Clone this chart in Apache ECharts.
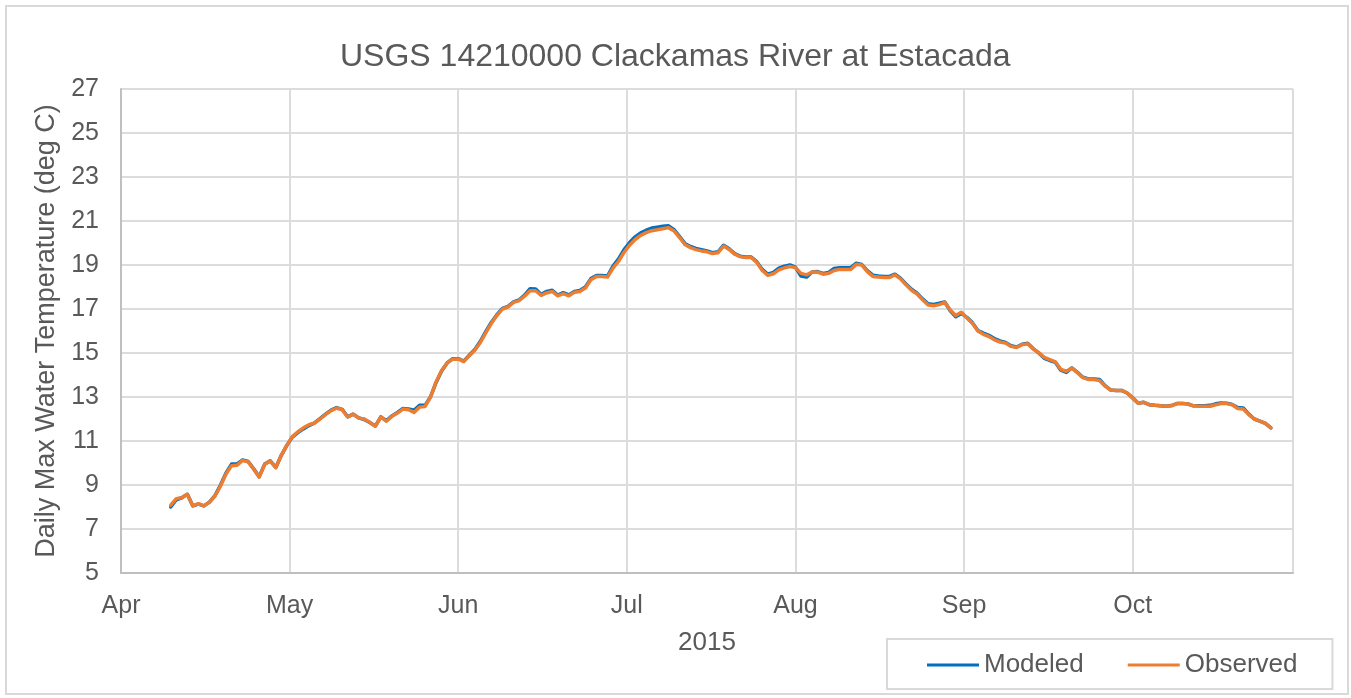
<!DOCTYPE html>
<html>
<head>
<meta charset="utf-8">
<title>Clackamas River at Estacada</title>
<script src="https://cdn.jsdelivr.net/npm/echarts@6/dist/echarts.min.js"></script>
<style>
  html, body { margin: 0; padding: 0; background: #ffffff; }
  #chart { width: 1351px; height: 698px; }
</style>
</head>
<body>
<div id="chart"></div>
<script>
// Text
const chartTitle = 'USGS 14210000 Clackamas River at Estacada';
const yAxisTitle = 'Daily Max Water Temperature (deg C)';
const xAxisTitle = '2015';
const seriesNames = ['Modeled', 'Observed'];
const monthLabels = ['Jan', 'Feb', 'Mar', 'Apr', 'May', 'Jun', 'Jul', 'Aug', 'Sep', 'Oct', 'Nov', 'Dec'];

// Axis origin and the first day with data (one value per day after that)
const axisStartDate = '2015-04-01';
const firstDataDate = '2015-04-10';

// Daily maximum water temperature, deg C, Apr 10 - Oct 26 2015
const observed = [
  8.08, 8.38, 8.42, 8.58, 8.05, 8.15, 8.05, 8.22, 8.50, 8.95,
  9.50, 9.88, 9.90, 10.12, 10.05, 9.72, 9.36, 9.94, 10.09, 9.79,
  10.35, 10.80, 11.20, 11.42, 11.60, 11.74, 11.82, 12.00, 12.20, 12.38,
  12.50, 12.42, 12.09, 12.22, 12.04, 12.00, 11.85, 11.67, 12.09, 11.90,
  12.12, 12.27, 12.45, 12.42, 12.30, 12.54, 12.57, 13.00, 13.69, 14.20,
  14.55, 14.72, 14.73, 14.61, 14.88, 15.13, 15.48, 15.93, 16.35, 16.70,
  17.00, 17.09, 17.30, 17.38, 17.58, 17.83, 17.83, 17.62, 17.73, 17.80,
  17.60, 17.70, 17.60, 17.76, 17.80, 17.95, 18.33, 18.48, 18.48, 18.45,
  18.86, 19.17, 19.58, 19.90, 20.16, 20.35, 20.47, 20.56, 20.60, 20.65,
  20.70, 20.56, 20.26, 19.93, 19.79, 19.70, 19.64, 19.60, 19.52, 19.56,
  19.86, 19.71, 19.49, 19.38, 19.34, 19.34, 19.12, 18.75, 18.53, 18.60,
  18.78, 18.87, 18.93, 18.88, 18.62, 18.55, 18.68, 18.68, 18.58, 18.62,
  18.75, 18.80, 18.80, 18.80, 19.03, 19.00, 18.70, 18.48, 18.45, 18.43,
  18.43, 18.55, 18.37, 18.10, 17.85, 17.68, 17.42, 17.18, 17.15, 17.20,
  17.30, 16.95, 16.70, 16.85, 16.60, 16.35, 16.00, 15.85, 15.75, 15.60,
  15.50, 15.45, 15.30, 15.25, 15.38, 15.42, 15.18, 15.02, 14.80, 14.70,
  14.60, 14.26, 14.17, 14.32, 14.10, 13.88, 13.80, 13.79, 13.75, 13.50,
  13.32, 13.30, 13.30, 13.18, 12.95, 12.72, 12.76, 12.65, 12.62, 12.60,
  12.58, 12.60, 12.70, 12.70, 12.68, 12.60, 12.58, 12.58, 12.58, 12.65,
  12.70, 12.70, 12.65, 12.48, 12.45, 12.20, 12.00, 11.90, 11.80, 11.60
];

const modeled = [
  8.00, 8.33, 8.42, 8.58, 8.05, 8.13, 8.05, 8.22, 8.52, 9.00,
  9.55, 9.95, 9.96, 10.14, 10.07, 9.74, 9.38, 9.95, 10.10, 9.80,
  10.35, 10.80, 11.18, 11.38, 11.55, 11.70, 11.82, 12.02, 12.22, 12.40,
  12.52, 12.44, 12.10, 12.22, 12.05, 11.98, 11.84, 11.68, 12.10, 11.92,
  12.14, 12.30, 12.48, 12.46, 12.40, 12.62, 12.62, 13.02, 13.66, 14.18,
  14.55, 14.74, 14.74, 14.63, 14.90, 15.16, 15.53, 15.98, 16.40, 16.74,
  17.03, 17.12, 17.32, 17.41, 17.63, 17.92, 17.91, 17.66, 17.80, 17.85,
  17.63, 17.74, 17.64, 17.80, 17.84, 18.00, 18.38, 18.52, 18.52, 18.50,
  18.95, 19.28, 19.70, 20.02, 20.28, 20.46, 20.58, 20.68, 20.72, 20.76,
  20.78, 20.62, 20.30, 19.98, 19.84, 19.75, 19.70, 19.64, 19.56, 19.60,
  19.90, 19.74, 19.52, 19.40, 19.36, 19.36, 19.15, 18.80, 18.58, 18.66,
  18.86, 18.95, 19.00, 18.90, 18.50, 18.45, 18.68, 18.70, 18.62, 18.66,
  18.84, 18.88, 18.88, 18.88, 19.08, 19.02, 18.74, 18.54, 18.50, 18.48,
  18.48, 18.58, 18.40, 18.14, 17.90, 17.72, 17.46, 17.24, 17.21, 17.26,
  17.32, 16.92, 16.65, 16.80, 16.62, 16.38, 16.02, 15.90, 15.80, 15.66,
  15.55, 15.48, 15.33, 15.27, 15.40, 15.44, 15.20, 15.00, 14.76, 14.66,
  14.58, 14.22, 14.12, 14.32, 14.12, 13.90, 13.82, 13.82, 13.80, 13.52,
  13.32, 13.30, 13.30, 13.18, 12.96, 12.72, 12.76, 12.65, 12.62, 12.60,
  12.58, 12.61, 12.70, 12.71, 12.68, 12.60, 12.60, 12.60, 12.62, 12.69,
  12.73, 12.72, 12.66, 12.52, 12.50, 12.22, 12.00, 11.90, 11.80, 11.60
];

const DAY_MS = 86400000;
const axisStart = Date.parse(axisStartDate + 'T00:00:00Z');
const firstOffset = (Date.parse(firstDataDate + 'T00:00:00Z') - axisStart) / DAY_MS;

// x = days since the axis origin
function toPoints(values) {
  return values.map((v, i) => [firstOffset + i, v]);
}

function monthName(dayValue) {
  const d = new Date(axisStart + Math.round(dayValue) * DAY_MS);
  return monthLabels[d.getUTCMonth()];
}

const FONT = '"Liberation Sans", Arial, sans-serif';
const TEXT = '#595959';
const GRID = '#DCDCDC';
const BLUE = '#0070C0';
const ORANGE = '#ED7D31';

const chart = echarts.init(document.getElementById('chart'), null, { renderer: 'canvas' });

chart.setOption({
  animation: false,
  backgroundColor: '#ffffff',
  textStyle: { fontFamily: FONT },
  title: {
    text: chartTitle,
    left: 335,
    top: 36,
    textStyle: { fontFamily: FONT, fontSize: 32, fontWeight: 'normal', color: TEXT }
  },
  graphic: [{
    type: 'rect',
    silent: true,
    shape: { x: 6, y: 6, width: 1342, height: 688 },
    style: { fill: 'none', stroke: '#D9D9D9', lineWidth: 2 }
  }],
  grid: { left: 121, right: 58, top: 89, bottom: 125, containLabel: false },
  legend: {
    data: [
      { name: seriesNames[0], icon: 'rect', itemStyle: { color: BLUE } },
      { name: seriesNames[1], icon: 'rect', itemStyle: { color: ORANGE } }
    ],
    left: 887,
    top: 639,
    orient: 'horizontal',
    itemWidth: 52,
    itemHeight: 3,
    itemGap: 44,
    padding: [13, 35, 11, 40],
    borderColor: '#D9D9D9',
    borderWidth: 2,
    textStyle: { fontFamily: FONT, fontSize: 26, color: TEXT }
  },
  xAxis: {
    type: 'value',
    min: 0,
    max: 212,
    interval: 30.5,
    name: xAxisTitle,
    nameLocation: 'middle',
    nameGap: 57,
    nameTextStyle: { fontFamily: FONT, fontSize: 26, color: TEXT },
    axisLine: { show: true, lineStyle: { color: '#BFBFBF', width: 2 } },
    axisTick: { show: false },
    axisLabel: {
      margin: 21,
      fontFamily: FONT,
      fontSize: 25,
      color: TEXT,
      showMaxLabel: false,
      formatter: monthName
    },
    splitLine: { show: true, lineStyle: { color: GRID, width: 2 } }
  },
  yAxis: {
    type: 'value',
    min: 5,
    max: 27,
    interval: 2,
    name: yAxisTitle,
    nameLocation: 'middle',
    nameGap: 61,
    nameTextStyle: { fontFamily: FONT, fontSize: 27, color: TEXT },
    axisLine: { show: true, lineStyle: { color: '#BFBFBF', width: 2 } },
    axisTick: { show: false },
    axisLabel: { margin: 22, fontFamily: FONT, fontSize: 25, color: TEXT },
    splitLine: { show: true, lineStyle: { color: GRID, width: 2 } }
  },
  series: [
    {
      name: seriesNames[0],
      type: 'line',
      data: toPoints(modeled),
      symbol: 'none',
      smooth: false,
      color: BLUE,
      lineStyle: { color: BLUE, width: 3.5, join: 'round', cap: 'round' }
    },
    {
      name: seriesNames[1],
      type: 'line',
      data: toPoints(observed),
      symbol: 'none',
      smooth: false,
      color: ORANGE,
      lineStyle: { color: ORANGE, width: 3.5, join: 'round', cap: 'round' }
    }
  ]
});
</script>
</body>
</html>
